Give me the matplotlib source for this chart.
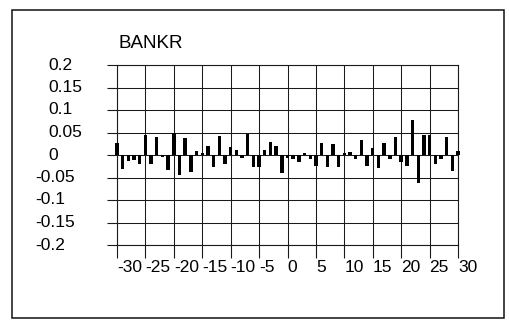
import matplotlib
matplotlib.use("Agg")
import matplotlib.pyplot as plt
from matplotlib.transforms import blended_transform_factory
from matplotlib.patches import Rectangle

plt.rcParams['font.family'] = ['Liberation Sans', 'DejaVu Sans']

# Cross-correlation lags and coefficients
lags = list(range(-30, 31))
coefs = [
    0.027, -0.031, -0.013, -0.011, -0.020, 0.044, -0.019, 0.040, -0.004, -0.034,
    0.050, -0.045, 0.037, -0.038, 0.008, 0.005, 0.019, -0.027, 0.043, -0.020,
    0.017, 0.012, -0.006, 0.046, -0.026, -0.026, 0.012, 0.030, 0.019, -0.040,
    -0.006, -0.009, -0.016, 0.005, -0.008, -0.024, 0.026, -0.027, 0.024, -0.027,
    0.004, 0.007, -0.009, 0.034, -0.024, 0.016, -0.029, 0.026, -0.009, 0.041,
    -0.016, -0.024, 0.078, -0.063, 0.044, 0.044, -0.020, -0.009, 0.041, -0.035,
    0.010,
]
title = "BANKR"
xticks = list(range(-30, 31, 5))
yticks = [0.2, 0.15, 0.1, 0.05, 0, -0.05, -0.1, -0.15, -0.2]
ylabels = ["0.2", "0.15", "0.1", "0.05", "0", "-0.05", "-0.1", "-0.15", "-0.2"]

W, H = 509, 320
fig = plt.figure(figsize=(W / 100, H / 100), dpi=100)
fig.patch.set_facecolor('white')

# Outer frame
fig.patches.append(Rectangle((12 / W, 2 / H), (504 - 12) / W, (310 - 2) / H,
                             transform=fig.transFigure, fill=False,
                             edgecolor='#111111', linewidth=1.1))

ax = fig.add_axes([117 / W, 1 - 245 / H, (458 - 117) / W, (245 - 65) / H])
ax.set_xlim(-30, 30)
ax.set_ylim(-0.2, 0.2)

ax.bar(lags, coefs, width=0.6, color='black', clip_on=False, zorder=3)

ax.set_xticks(xticks)
ax.set_xticklabels([str(t) for t in xticks], ha='left', fontsize=12.5)
ax.set_yticks(yticks)
ax.set_yticklabels([])
ax.tick_params(axis='x', direction='out', length=9, width=0.8, pad=2, color='#1a1a1a')
ax.tick_params(axis='y', direction='out', length=7, width=0.8, color='#1a1a1a')
ax.grid(True, color='#1a1a1a', linewidth=0.75)
ax.set_axisbelow(True)
for s in ax.spines.values():
    s.set_color('#1a1a1a')
    s.set_linewidth(0.8)

# y tick labels
tr = blended_transform_factory(fig.transFigure, ax.transData)
for v, lab in zip(yticks, ylabels):
    x = 35 / W if lab.startswith('-') else 48 / W
    ax.text(x, v, lab, transform=tr, ha='left', va='center', fontsize=12.5,
            clip_on=False)

fig.text(118 / W, 1 - 43 / H, title, ha='left', va='center', fontsize=13.5)

fig.savefig('out.png', dpi=100)
